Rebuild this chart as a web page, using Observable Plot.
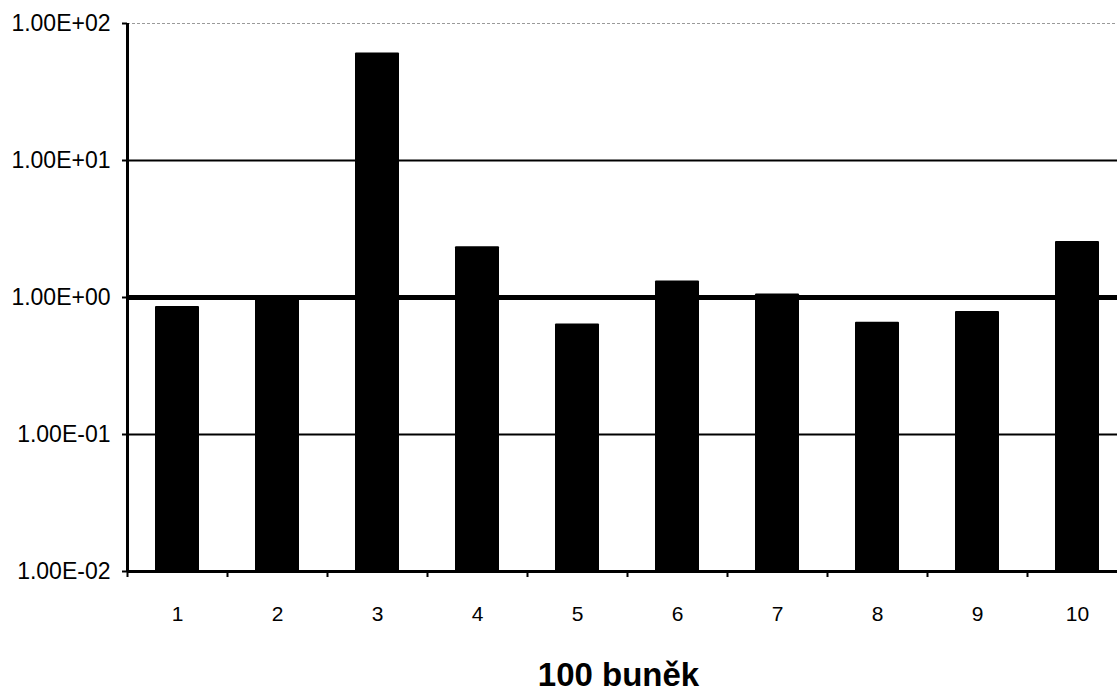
<!DOCTYPE html>
<html>
<head>
<meta charset="utf-8">
<script src="https://cdn.jsdelivr.net/npm/d3@7"></script>
<script src="https://cdn.jsdelivr.net/npm/@observablehq/plot@0.6"></script>
<style>
  html, body { margin: 0; padding: 0; background: #fff; overflow: hidden; width: 1117px; height: 694px; }
  #chart { width: 1117px; height: 694px; overflow: hidden; }
  #chart svg { display: block; max-width: none !important; }
</style>
</head>
<body>
<div id="chart"></div>
<script>
// Data
const categories = ["1", "2", "3", "4", "5", "6", "7", "8", "9", "10"];
const values = [0.86, 0.97, 61, 2.35, 0.64, 1.32, 1.06, 0.66, 0.79, 2.56];
const yTicks = [0.01, 0.1, 1, 10, 100];
const yTickLabels = ["1.00E-02", "1.00E-01", "1.00E+00", "1.00E+01", "1.00E+02"];
const xTitle = "100 buněk";

const data = categories.map((c, i) => ({cat: c, value: values[i]}));
const font = "'Liberation Sans', Arial, Helvetica, sans-serif";

const chart = Plot.plot({
  width: 1127,
  height: 694,
  marginLeft: 127,
  marginRight: 0,
  marginTop: 23,
  marginBottom: 123,
  style: {fontFamily: font, background: "#fff", color: "#000", maxWidth: "none"},
  x: {domain: categories, paddingInner: 0.56, paddingOuter: 0.28, align: 0.5},
  y: {type: "log", domain: [0.01, 100]},
  marks: [
    // top (100) faint gridline
    Plot.ruleY([100], {stroke: "#9a9a9a", strokeWidth: 1, strokeDasharray: "3,2"}),
    // gridlines 10 and 0.1
    Plot.ruleY([10, 0.1], {stroke: "#000", strokeWidth: 2}),
    // gridline 1 (thicker)
    Plot.ruleY([1], {stroke: "#000", strokeWidth: 5}),
    // bars
    Plot.barY(data, {x: "cat", y1: 0.01, y2: "value", fill: "#000", rx: 1}),
    // y axis
    Plot.axisY({
      ticks: yTicks,
      tickFormat: d => yTickLabels[yTicks.indexOf(d)],
      tickSize: 5,
      tickPadding: 12,
      strokeWidth: 2,
      fontSize: 23,
      label: null
    }),
    // x axis labels (no ticks at centers)
    Plot.axisX({
      tickSize: 0,
      tickPadding: 35,
      fontSize: 21,
      label: null
    }),
    // boundary ticks on x axis
    Plot.ruleX(categories, {x: d => d, y1: 0.01, y2: 0.01, dx: -50, insetBottom: -6, stroke: "#000", strokeWidth: 2}),
    // axis lines
    Plot.ruleY([0.01], {stroke: "#000", strokeWidth: 3}),
    Plot.ruleX([categories[0]], {x: d => d, dx: -50, stroke: "#000", strokeWidth: 3}),
    // x title
    Plot.text([xTitle], {
      frameAnchor: "bottom",
      dx: -9,
      dy: 104,
      lineAnchor: "middle",
      fontSize: 33,
      fontWeight: "bold",
      fill: "#000"
    })
  ]
});
document.getElementById("chart").appendChild(chart);
</script>
</body>
</html>
